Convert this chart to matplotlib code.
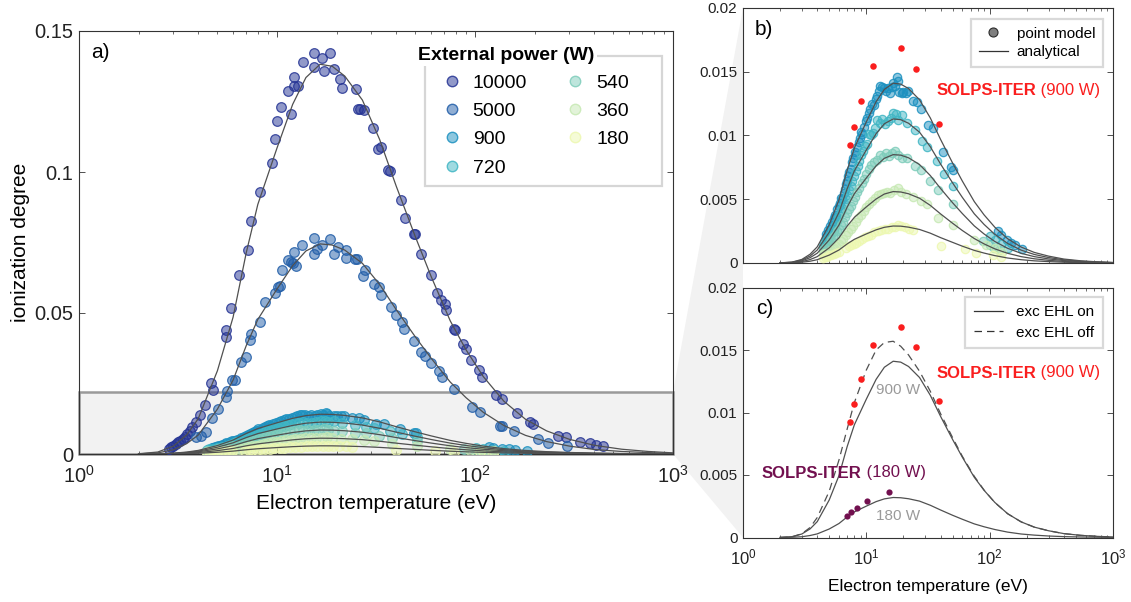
import matplotlib
matplotlib.use('Agg')
import matplotlib.pyplot as plt
from matplotlib.patches import Rectangle, Polygon
from matplotlib.lines import Line2D
from matplotlib.colors import to_rgb
import numpy as np

plt.rcParams['font.family'] = ['Liberation Sans', 'DejaVu Sans']
plt.rcParams['mathtext.default'] = 'regular'

W, H = 1131, 602

# analytical curves, sampled on one temperature grid (eV)
t_grid = [2, 2.5, 3, 3.5, 4, 5, 6, 7, 8, 10, 12, 14, 16.5, 19, 22, 27, 33, 40, 50,
          60, 75, 90, 110, 140, 180, 230, 300, 400, 550, 750, 1000]
fit_10000 = [0.0001, 0.0007, 0.0028, 0.0068, 0.0125, 0.0295, 0.0485, 0.0715, 0.0885, 0.1085,
             0.1240, 0.1335, 0.1382, 0.1375, 0.1340, 0.1255, 0.1115, 0.0950, 0.0770, 0.0630,
             0.0472, 0.0370, 0.0275, 0.0187, 0.0123, 0.0082, 0.0052, 0.0031, 0.0017, 0.0009, 0.0004]
fit_5000 = [0.00005, 0.0004, 0.0015, 0.0037, 0.0067, 0.0159, 0.0262, 0.0385, 0.0477, 0.0585,
            0.0668, 0.0720, 0.0745, 0.0741, 0.0723, 0.0676, 0.0601, 0.0512, 0.0415, 0.0340,
            0.0255, 0.0200, 0.0148, 0.0101, 0.0066, 0.0044, 0.0028, 0.0016, 0.0009, 0.0005, 0.0002]
fit_900 = [0.00001, 0.00007, 0.00028, 0.00069, 0.00127, 0.0030, 0.00495, 0.00729, 0.00902, 0.01107,
           0.01265, 0.01362, 0.0141, 0.01403, 0.01368, 0.0128, 0.01138, 0.00969, 0.00785, 0.00643,
           0.00482, 0.00378, 0.00281, 0.0019, 0.00125, 0.00083, 0.00054, 0.00031, 0.00017, 0.00009, 0.00004]
fit_720 = [0.00001, 0.00006, 0.00023, 0.00055, 0.00102, 0.00241, 0.00397, 0.00584, 0.00723, 0.00887,
           0.01014, 0.01092, 0.0113, 0.01124, 0.01096, 0.01026, 0.00912, 0.00776, 0.00629, 0.00515,
           0.00386, 0.00303, 0.00225, 0.00153, 0.00101, 0.00067, 0.00043, 0.00025, 0.00014, 0.00007, 0.00003]
fit_540 = [0.00001, 0.00004, 0.00017, 0.00042, 0.00077, 0.00181, 0.00298, 0.00439, 0.00544, 0.00667,
           0.00762, 0.00821, 0.0085, 0.00846, 0.00825, 0.00772, 0.00686, 0.00584, 0.00473, 0.00388,
           0.00291, 0.00228, 0.00169, 0.00115, 0.00076, 0.0005, 0.00032, 0.00019, 0.0001, 0.00006, 0.00003]
fit_360 = [0.0, 0.00003, 0.00011, 0.00027, 0.0005, 0.00119, 0.00197, 0.0029, 0.00358, 0.0044,
           0.00502, 0.00541, 0.0056, 0.00557, 0.00543, 0.00508, 0.00452, 0.00385, 0.00312, 0.00255,
           0.00192, 0.0015, 0.00111, 0.00076, 0.0005, 0.00033, 0.00021, 0.00012, 0.00007, 0.00004, 0.00002]
fit_180 = [0.0, 0.00001, 0.00006, 0.00014, 0.00026, 0.00062, 0.00102, 0.0015, 0.00186, 0.00228,
           0.0026, 0.0028, 0.0029, 0.00289, 0.00281, 0.00263, 0.00234, 0.00199, 0.00162, 0.00132,
           0.00099, 0.00078, 0.00058, 0.00039, 0.00026, 0.00017, 0.00011, 0.00006, 0.00003, 0.00002, 0.00001]
# panel c: 900 W with excitation energy loss off, and 180 W
off_900 = [0.0, 0.00005, 0.0003, 0.0008, 0.0016, 0.0037, 0.0062, 0.0087, 0.0108, 0.0134,
           0.0150, 0.0156, 0.0157, 0.0153, 0.0146, 0.0133, 0.0117, 0.0099, 0.0080, 0.0065,
           0.0049, 0.0038, 0.0028, 0.0019, 0.00125, 0.00083, 0.00054, 0.00031, 0.00017, 0.00009, 0.00004]
on_180 = [0.0, 0.00002, 0.00006, 0.00016, 0.00029, 0.00068, 0.00112, 0.00165, 0.00205, 0.00251,
          0.00287, 0.00309, 0.0032, 0.00318, 0.0031, 0.00291, 0.00258, 0.0022, 0.00178, 0.00146,
          0.00109, 0.00086, 0.00064, 0.00043, 0.00028, 0.00019, 0.00012, 0.00007, 0.00004, 0.00002, 0.00001]

# point model results (Te, ionization degree)
pts_10000 = [(2.86, 0.0018), (2.93, 0.0024), (3.0, 0.0030), (3.09, 0.0036), (3.17, 0.0041), (3.25, 0.0047),
             (3.34, 0.0053), (3.43, 0.0061), (3.52, 0.0071), (3.65, 0.0080), (3.74, 0.0095), (3.9, 0.0112),
             (4.1, 0.0137), (4.35, 0.0173), (4.63, 0.0252), (4.75, 0.0227), (5.5, 0.0440), (5.52, 0.0416),
             (5.86, 0.0519), (6.43, 0.0636), (7.13, 0.0725), (7.40, 0.0825), (8.21, 0.0928), (9.40, 0.1033),
             (9.74, 0.1118), (10.0, 0.1181), (10.5, 0.1230), (11.8, 0.1207), (11.3, 0.1287), (12.2, 0.1304),
             (12.7, 0.1304), (12.2, 0.1337), (13.5, 0.1389), (15.3, 0.1423), (15.3, 0.1372), (16.9, 0.1404),
             (17.3, 0.1358), (18.5, 0.1422), (19.4, 0.1364), (20.7, 0.1329), (21.4, 0.1299), (25.2, 0.1296),
             (25.6, 0.1225), (26.4, 0.1225), (27.4, 0.1219), (30.7, 0.1156), (32.5, 0.1080), (33.7, 0.1087),
             (36.3, 0.1006), (37.0, 0.1004), (42.4, 0.0902), (44.5, 0.0838), (49.1, 0.0781), (49.5, 0.0780),
             (53.6, 0.0710), (59.8, 0.0634), (64.6, 0.0571), (67.4, 0.0545), (70.3, 0.0531), (71.0, 0.0510),
             (78.3, 0.0443), (78.8, 0.0440), (86.8, 0.0390), (89.9, 0.0372), (95.9, 0.0333), (105, 0.0298),
             (109, 0.0274), (128, 0.0209), (137, 0.0195), (163, 0.0144), (190, 0.0112), (197, 0.0106),
             (262, 0.0063), (287, 0.0062), (338, 0.0042), (381, 0.0039), (408, 0.0033), (443, 0.0028)]
pts_5000 = [(3.9, 0.0061), (4.13, 0.0065), (4.38, 0.0077), (4.68, 0.0128), (5.04, 0.0160), (5.5, 0.0201),
            (5.56, 0.0225), (5.9, 0.0264), (6.17, 0.0264), (6.56, 0.0327), (7.0, 0.0343), (7.3, 0.0404),
            (7.4, 0.0426), (8.2, 0.0467), (8.74, 0.0539), (9.76, 0.0571), (10.1, 0.0592), (10.4, 0.0595),
            (10.6, 0.0654), (11.3, 0.0687), (11.7, 0.0681), (12.1, 0.0677), (12.5, 0.0666), (12.2, 0.0716),
            (13.4, 0.0742), (15.3, 0.0767), (15.3, 0.0708), (16.0, 0.0728), (16.9, 0.0740), (18.6, 0.0764),
            (19.4, 0.0708), (20.4, 0.0734), (22.2, 0.0722), (22.3, 0.0696), (24.7, 0.0693), (25.4, 0.0693),
            (27.8, 0.0651), (27.2, 0.0631), (30.9, 0.0604), (32.6, 0.0592), (33.7, 0.0565), (37.6, 0.0521),
            (40.1, 0.0492), (42.7, 0.0467), (43.7, 0.0443), (49.3, 0.0400), (53.6, 0.0361), (55.6, 0.0349),
            (59.8, 0.0321), (65.5, 0.0296), (68, 0.0272), (78.6, 0.0231), (96.9, 0.0166), (106, 0.0148),
            (133, 0.0101), (137, 0.0098), (158, 0.0081), (208, 0.0054), (235, 0.0039), (290, 0.0028)]
pts_900 = [(4.7, 0.0020), (4.75, 0.0023), (4.8, 0.0019), (4.85, 0.0026), (4.95, 0.0024), (5.05, 0.0029),
           (5.15, 0.0027), (5.25, 0.0032), (5.35, 0.0030), (5.45, 0.0035), (5.55, 0.0038), (5.7, 0.0036),
           (5.8, 0.0042), (5.95, 0.0045), (6.1, 0.0047), (6.25, 0.0051), (6.4, 0.0050), (6.55, 0.0055),
           (6.7, 0.0058), (6.85, 0.0062), (7.0, 0.0064), (7.15, 0.0068), (7.3, 0.0071), (7.5, 0.0074),
           (7.65, 0.0079), (7.85, 0.0082), (8.05, 0.0087), (8.25, 0.0085), (8.45, 0.0091), (8.7, 0.0095),
           (8.9, 0.0098), (9.1, 0.0103), (9.3, 0.0101), (9.6, 0.0107), (9.9, 0.0111), (10.2, 0.0114),
           (10.5, 0.0118), (10.8, 0.0121), (11.1, 0.0125), (11.5, 0.0124), (11.9, 0.0129), (12.3, 0.0131),
           (12.6, 0.0135), (13.0, 0.0139), (13.4, 0.0138), (13.9, 0.0137), (14.4, 0.0135), (14.9, 0.0137),
           (15.5, 0.0133), (16.0, 0.0138), (16.6, 0.0141), (17.1, 0.0139), (17.6, 0.0146), (17.9, 0.0143),
           (18.4, 0.0134), (19.4, 0.0133), (20.0, 0.0134), (21.0, 0.0133), (21.8, 0.0135), (23.9, 0.0127),
           (25.8, 0.0126), (27.6, 0.0121), (31.5, 0.0108), (34.6, 0.0106), (41.8, 0.0087), (49.0, 0.0075),
           (50.5, 0.0073), (117, 0.0025), (124, 0.0022), (137, 0.0018), (149, 0.0016), (160, 0.0014), (183, 0.0011)]
pts_720 = [(4.45, 0.0013), (4.55, 0.0016), (4.65, 0.0014), (4.75, 0.0018), (4.9, 0.0017), (5.0, 0.0021),
           (5.15, 0.0023), (5.3, 0.0026), (5.45, 0.0025), (5.6, 0.0030), (5.75, 0.0033), (5.9, 0.0035),
           (6.05, 0.0038), (6.2, 0.0041), (6.4, 0.0043), (6.6, 0.0047), (6.8, 0.0050), (7.0, 0.0053),
           (7.2, 0.0057), (7.45, 0.0060), (7.7, 0.0064), (7.95, 0.0068), (8.2, 0.0072), (8.5, 0.0076),
           (8.8, 0.0080), (9.1, 0.0085), (9.4, 0.0088), (9.7, 0.0092), (10.1, 0.0093), (10.5, 0.0101),
           (10.9, 0.0100), (11.3, 0.0102), (11.8, 0.0106), (12.3, 0.0112), (12.9, 0.0110), (13.5, 0.0113),
           (14.2, 0.0109), (15.0, 0.0111), (15.8, 0.0114), (16.6, 0.0118), (17.4, 0.0117), (18.2, 0.0112),
           (19.4, 0.0116), (21.2, 0.0110), (24.8, 0.0104), (28.2, 0.0096), (30.8, 0.0091), (37.1, 0.0080),
           (43.0, 0.0070), (50.8, 0.0060), (101, 0.0021), (110, 0.0018), (124, 0.0015), (140, 0.0012)]
pts_540 = [(4.45, 0.0010), (4.6, 0.0012), (4.75, 0.0011), (4.9, 0.0014), (5.05, 0.0016), (5.2, 0.0018),
           (5.4, 0.0020), (5.6, 0.0022), (5.8, 0.0025), (6.0, 0.0027), (6.2, 0.0030), (6.45, 0.0032),
           (6.7, 0.0036), (6.95, 0.0039), (7.2, 0.0042), (7.5, 0.0045), (7.8, 0.0049), (8.1, 0.0052),
           (8.45, 0.0056), (8.8, 0.0059), (9.2, 0.0063), (9.6, 0.0066), (10.0, 0.0070), (10.5, 0.0074),
           (11.0, 0.0077), (11.6, 0.0079), (12.2, 0.0081), (12.9, 0.0085), (13.6, 0.0083), (14.4, 0.0086),
           (15.3, 0.0084), (16.2, 0.0086), (17.2, 0.0088), (18.2, 0.0085), (19.5, 0.0082), (21.2, 0.0082),
           (24.8, 0.0076), (28.0, 0.0073), (32.9, 0.0064), (38.2, 0.0057), (50.8, 0.0046), (88, 0.0017),
           (100, 0.0014), (108, 0.0012), (120, 0.0010)]
pts_360 = [(4.45, 0.0007), (4.6, 0.0008), (4.8, 0.0007), (5.0, 0.0009), (5.2, 0.0010), (5.45, 0.0012),
           (5.7, 0.0013), (5.95, 0.0015), (6.2, 0.0017), (6.5, 0.0019), (6.8, 0.0022), (7.1, 0.0024),
           (7.45, 0.0027), (7.8, 0.0029), (8.2, 0.0032), (8.6, 0.0035), (9.0, 0.0038), (9.5, 0.0041),
           (10.0, 0.0044), (10.5, 0.0046), (11.1, 0.0049), (11.7, 0.0051), (12.4, 0.0053), (13.1, 0.0054),
           (13.9, 0.0055), (14.8, 0.0056), (15.7, 0.0055), (16.8, 0.0057), (17.9, 0.0059), (19.0, 0.0056),
           (21.0, 0.0054), (23.9, 0.0052), (27.5, 0.0049), (31.0, 0.0046), (38.0, 0.0035), (50.8, 0.0030),
           (75, 0.0018), (94, 0.0014), (110, 0.0012), (125, 0.0009)]
pts_180 = [(4.45, 0.0004), (4.6, 0.0005), (4.8, 0.0005), (5.0, 0.0006), (5.2, 0.0006), (5.45, 0.0007),
           (5.7, 0.0008), (5.95, 0.0009), (6.9, 0.0012), (7.2, 0.0013), (7.5, 0.0014), (7.9, 0.0015),
           (8.3, 0.0016), (8.7, 0.0017), (9.2, 0.0019), (9.7, 0.0020), (10.3, 0.0021), (10.9, 0.0022),
           (11.6, 0.0024), (12.4, 0.0025), (13.2, 0.0026), (14.1, 0.0027), (15.0, 0.0027), (16.0, 0.0028),
           (17.0, 0.0028), (18.0, 0.0030), (19.2, 0.0029), (20.6, 0.0028), (22.2, 0.0027), (24.0, 0.0026),
           (40.0, 0.0013), (62.8, 0.0011), (78, 0.0008), (106, 0.0006), (124, 0.0005)]

# SOLPS-ITER reference points
solps900_t = [7.32, 7.94, 9.1, 11.25, 19.1, 25.1, 38.8]
solps900_v = [0.00925, 0.01069, 0.0127, 0.01542, 0.01686, 0.01524, 0.01093]
solps180_t = [6.97, 7.55, 8.46, 10.1, 15.3]
solps180_v = [0.00173, 0.00202, 0.0024, 0.00296, 0.00362]

powers = ['10000', '5000', '900', '720', '540', '360', '180']
colors = ['#253494', '#225ea8', '#1d91c0', '#41b6c4', '#7fcdbb', '#c7e9b4', '#edf8b1']
all_pts = [pts_10000, pts_5000, pts_900, pts_720, pts_540, pts_360, pts_180]
all_fits = [fit_10000, fit_5000, fit_900, fit_720, fit_540, fit_360, fit_180]

RED = '#fa1e1e'
PURPLE = '#72104f'
LINE = '#505050'


def box(x0, y0, x1, y1):
    # pixel box measured from the top-left -> [l, b, w, h] in figure fraction
    return [x0 / W, 1 - y1 / H, (x1 - x0) / W, (y1 - y0) / H]


def fpt(x, y):
    return (x / W, 1 - y / H)


def style(ax, fs, xpad):
    ax.set_xscale('log')
    ax.set_xlim(1, 1000)
    ax.tick_params(which='both', direction='in', top=True, right=True,
                   labelsize=fs, colors='#333333', labelcolor='#222222', pad=4)
    ax.tick_params(axis='x', pad=xpad)
    ax.tick_params(which='major', length=4.5, width=0.6)
    ax.tick_params(which='minor', length=2.5, width=0.5)
    for s in ax.spines.values():
        s.set_linewidth(0.8)
        s.set_color('#333333')


def face(c, a):
    return (*to_rgb(c), a)


def solps_label(ax, x, y, rest, color, fs):
    t = ax.text(x, y, 'SOLPS-ITER', transform=ax.transAxes, color=color, fontsize=fs,
                fontweight='bold', va='center', ha='left', zorder=6)
    ax.annotate(rest, xy=(1, 0.5), xycoords=t, color=color, fontsize=fs,
                va='center', ha='left', zorder=6)


fig = plt.figure(figsize=(W / 100, H / 100), dpi=100)
ax_a = fig.add_axes(box(79, 31, 673, 454))
ax_b = fig.add_axes(box(743, 8, 1113, 263))
ax_c = fig.add_axes(box(743, 287.5, 1113, 537.5))

# zoom wedge from panel a to panels b and c
fig.patches.append(Polygon([fpt(673, 392), fpt(743, 8), fpt(743, 537.5), fpt(673, 454)],
                           closed=True, transform=fig.transFigure, facecolor='#f2f2f2',
                           edgecolor='none', zorder=-1))

# ---- a)
style(ax_a, 14.5, 8)
ax_a.set_ylim(0, 0.15)
ax_a.set_yticks([0, 0.05, 0.1, 0.15])
ax_a.set_yticklabels(['0', '0.05', '0.1', '0.15'])
ax_a.add_patch(Rectangle((1, 0), 999, 0.022, facecolor='#f2f2f2', edgecolor='#9a9a9a',
                         lw=1.8, zorder=0.5, clip_on=False))
for pts, col in zip(all_pts, colors):
    t, v = np.array(pts).T
    ax_a.scatter(t, v, s=48, facecolor=face(col, 0.5), edgecolor=face(col, 0.85),
                 linewidths=0.9, zorder=3)
for fit in all_fits:
    ax_a.plot(t_grid, fit, color=LINE, lw=0.9, zorder=4)
ax_a.set_xlabel('Electron temperature (eV)', fontsize=15, labelpad=5)
ax_a.set_ylabel('ionization degree', fontsize=15, labelpad=3)
ax_a.text(0.02, 0.948, 'a)', transform=ax_a.transAxes, fontsize=15, va='center', ha='left')

handles = [Line2D([], [], ls='none', marker='o', ms=7.5, mfc=face(c, 0.5), mec=face(c, 0.85), mew=1)
           for c in colors]
ax_a.legend(handles, powers, ncol=2, frameon=False, loc='upper left',
            bbox_to_anchor=fpt(442, 74), bbox_transform=fig.transFigure,
            borderpad=0, borderaxespad=0, handlelength=1.0, handletextpad=0.58,
            columnspacing=1.97, labelspacing=0.55, fontsize=14)
fig.patches.append(Rectangle(fpt(425, 186), 237 / W, 130 / H, transform=fig.transFigure,
                             fill=False, edgecolor='#d6d6d6', lw=1.6, zorder=5))
fig.text(418 / W, 1 - 55 / H, 'External power (W)', fontsize=14, fontweight='bold',
         va='center', ha='left', zorder=6,
         bbox=dict(facecolor='white', edgecolor='none', pad=1.5))

# ---- b)
style(ax_b, 11, 6)
ax_b.set_ylim(0, 0.02)
ax_b.set_yticks([0, 0.005, 0.01, 0.015, 0.02])
ax_b.set_yticklabels(['0', '0.005', '0.01', '0.015', '0.02'])
ax_b.tick_params(labelbottom=False)
for pts, col in zip(all_pts[2:], colors[2:]):
    t, v = np.array(pts).T
    ax_b.scatter(t, v, s=36, facecolor=face(col, 0.5), edgecolor=face(col, 0.85),
                 linewidths=0.9, zorder=3)
for fit in all_fits[2:]:
    ax_b.plot(t_grid, fit, color=LINE, lw=0.9, zorder=4)
ax_b.scatter(solps900_t, solps900_v, s=22, color=RED, linewidths=0, zorder=5)
solps_label(ax_b, 0.522, 0.675, ' (900 W)', RED, 12)
ax_b.text(0.032, 0.914, 'b)', transform=ax_b.transAxes, fontsize=15, va='center', ha='left')
hb = [Line2D([], [], ls='none', marker='o', ms=6.5, mfc='#7f7f7f', mec='#2a2a2a', mew=0.8),
      Line2D([], [], color='#333333', lw=0.9)]
lb = ax_b.legend(hb, ['point model', 'analytical'], loc='upper right',
                 bbox_to_anchor=fpt(1103, 19), bbox_transform=fig.transFigure, borderaxespad=0,
                 fancybox=False, edgecolor='#d9d9d9', framealpha=1, fontsize=11,
                 handlelength=1.9, handletextpad=0.6, borderpad=0.5, labelspacing=0.3)
lb.get_frame().set_linewidth(1.6)

# ---- c)
style(ax_c, 12, 7.5)
ax_c.set_ylim(0, 0.02)
ax_c.set_yticks([0, 0.005, 0.01, 0.015, 0.02])
ax_c.set_yticklabels(['0', '0.005', '0.01', '0.015', '0.02'])
ax_c.tick_params(axis='y', labelsize=11)
ax_c.plot(t_grid, fit_900, color=LINE, lw=0.9, zorder=4)
ax_c.plot(t_grid, off_900, color=LINE, lw=0.9, ls=(0, (6, 4)), zorder=4)
ax_c.plot(t_grid, on_180, color=LINE, lw=0.9, zorder=4)
ax_c.scatter(solps900_t, solps900_v, s=22, color=RED, linewidths=0, zorder=5)
ax_c.scatter(solps180_t, solps180_v, s=20, color=PURPLE, linewidths=0, zorder=5)
solps_label(ax_c, 0.522, 0.658, ' (900 W)', RED, 12)
solps_label(ax_c, 0.051, 0.258, ' (180 W)', PURPLE, 12)
ax_c.text(0.419, 0.59, '900 W', transform=ax_c.transAxes, fontsize=11, color='#9a9a9a',
          va='center', ha='center')
ax_c.text(0.419, 0.086, '180 W', transform=ax_c.transAxes, fontsize=11, color='#9a9a9a',
          va='center', ha='center')
ax_c.text(0.035, 0.918, 'c)', transform=ax_c.transAxes, fontsize=15, va='center', ha='left')
ax_c.set_xlabel('Electron temperature (eV)', fontsize=12.5, labelpad=8)
hc = [Line2D([], [], color='#333333', lw=0.9),
      Line2D([], [], color='#333333', lw=0.9, ls=(0, (6, 4)))]
lc = ax_c.legend(hc, ['exc EHL on', 'exc EHL off'], loc='upper right',
                 bbox_to_anchor=fpt(1103, 297), bbox_transform=fig.transFigure, borderaxespad=0,
                 fancybox=False, edgecolor='#d9d9d9', framealpha=1, fontsize=11,
                 handlelength=1.96, handletextpad=0.85, borderpad=0.55, labelspacing=0.4)
lc.get_frame().set_linewidth(1.6)

plt.savefig('out.png', dpi=100)
